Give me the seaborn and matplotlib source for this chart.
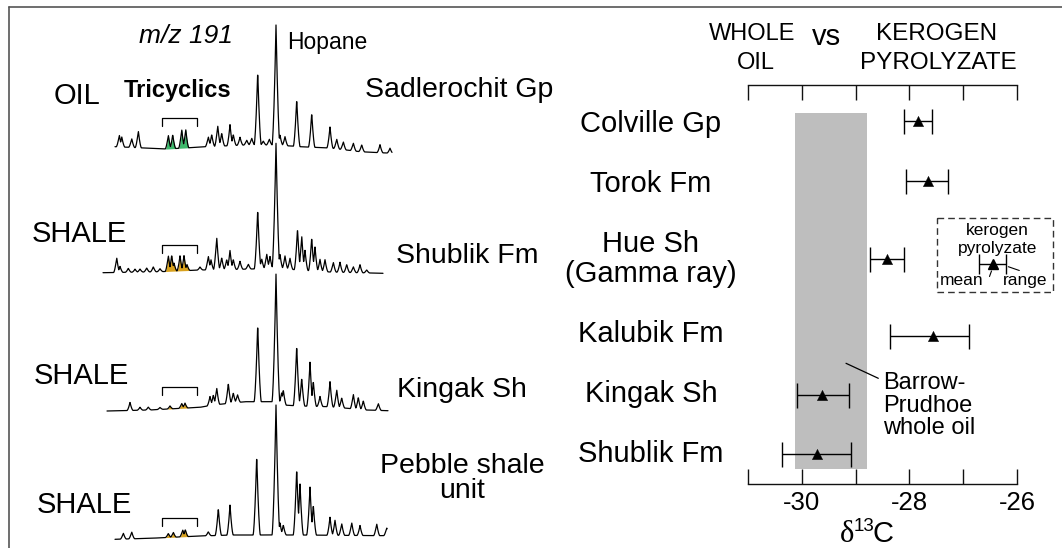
import numpy as np
import matplotlib
matplotlib.use('Agg')
import matplotlib.pyplot as plt
import seaborn as sns
from matplotlib.patches import Rectangle

# ---------------- data: carbon isotopes (right panel) ----------------
formations = ['Colville Gp', 'Torok Fm', 'Hue Sh\n(Gamma ray)', 'Kalubik Fm', 'Kingak Sh', 'Shublik Fm']
d13c_mean = [-27.84, -27.66, -28.41, -27.56, -29.62, -29.72]
d13c_min = [-28.10, -28.06, -28.74, -28.36, -30.09, -30.36]
d13c_max = [-27.59, -27.28, -28.11, -26.90, -29.12, -29.09]
oil_d13c_range = [-30.12, -28.78]
x_ticks = [-31, -30, -29, -28, -27, -26]
x_ticklabels = ['', '-30', '', '-28', '', '-26']

# ---------------- data: m/z 191 chromatograms (peak retention, height) ----------------
trace_types = ['OIL', 'SHALE', 'SHALE', 'SHALE']
trace_units = ['Sadlerochit Gp', 'Shublik Fm', 'Kingak Sh', 'Pebble shale\nunit']

oil_rt = [119.3, 121.8, 131.7, 138.3, 168.3, 172.7, 181.7, 185.7, 208.3, 211.7, 217.7, 221.7,
          230.0, 233.3, 240.0, 246.7, 251.7, 257.7, 263.3, 269.3, 276.0, 280.0, 285.0, 296.7,
          311.7, 330.0, 336.7, 343.3, 353.3, 361.7, 380.0, 390.0]
oil_h = [12, 10, 9, 17, 14, 14, 19, 19, 10, 12, 21, 13, 21, 11, 8, 5, 7, 73, 4, 6, 120, 10, 9,
         47, 34, 21, 10, 8, 8, 7, 8, 5]

shublik_rt = [116.7, 120.0, 128.3, 135.0, 140.0, 146.7, 153.3, 160.0, 168.3, 171.7, 174.0, 180.0,
              184.0, 187.0, 200.0, 208.3, 211.0, 216.7, 221.7, 226.7, 230.0, 233.3, 240.0, 248.3,
              257.7, 261.7, 266.7, 270.0, 276.0, 280.0, 285.0, 290.0, 297.5, 301.7, 305.0, 311.7,
              315.0, 320.0, 325.0, 333.3, 340.0, 346.7, 353.3, 360.0, 366.7]
shublik_h = [15, 6, 4, 3, 3, 4, 5, 3, 16, 16, 8, 15, 15, 6, 3, 14, 10, 33, 12, 10, 19, 10, 8, 5,
             59, 10, 15, 12, 125, 14, 13, 11, 41, 35, 20, 33, 24, 12, 12, 10, 10, 8, 6, 8, 3]

kingak_rt = [130.0, 140.0, 148.3, 160.0, 170.0, 181.7, 185.0, 210.0, 213.3, 216.7, 228.3, 233.3,
             237.5, 257.7, 276.0, 281.7, 283.3, 296.7, 301.7, 310.0, 313.3, 320.0, 330.0, 336.7,
             341.7, 353.3, 358.3, 363.3, 378.3]
kingak_h = [8, 3, 3, 2, 3, 5, 5, 9, 10, 17, 20, 10, 8, 77, 128, 12, 15, 60, 28, 44, 25, 10, 25,
            18, 10, 15, 12, 9, 7]

pebble_rt = [123.3, 131.7, 168.3, 173.3, 182.7, 185.3, 208.3, 218.3, 230.0, 256.7, 276.0, 280.0,
             283.3, 296.7, 300.0, 310.0, 313.3, 330.0, 335.0, 341.7, 351.7, 360.0, 376.7, 386.7]
pebble_h = [6, 7, 4, 5, 7, 7, 4, 27, 30, 79, 130, 12, 10, 66, 51, 48, 30, 18, 15, 12, 13, 10, 12, 8]

# ---------------- layout (pixel units of the figure) ----------------
W, H = 1062, 548
row_y = [120.7, 181.0, 259.3, 336.0, 395.0, 454.0]
row_label_base = [131.7, 192.3, 251.7, 341.7, 401.7, 461.7]
trace_spans = [(115, 392), (103, 383), (107, 388), (115, 387)]
trace_base_knots = [
    ([115, 167, 207, 245, 276, 300, 330, 360, 392], [146.7, 149, 146.7, 145, 145, 146.7, 148, 151.7, 153.3]),
    ([103, 160, 200, 240, 276, 300, 330, 383], [272.7, 271.7, 270, 269.3, 268.3, 270, 272, 273.3]),
    ([107, 150, 200, 213, 245, 255, 275, 283, 300, 330, 366, 388],
     [411, 410, 407.3, 405, 401.7, 401.7, 401.7, 405, 406, 406.7, 410, 410.7]),
    ([115, 150, 200, 233, 300, 387], [539.3, 538.3, 536, 535, 535, 535.7]),
]
bracket_y = [118.3, 245.0, 387.3, 518.3]
type_label_pos = [(77, 104), (79, 241.7), (81.5, 384.3), (84, 513.3)]
unit_label_pos = [(459, 96.7), (467.5, 263.3), (462, 396.7), (462, 473.3)]
fill_colors = ['#3cb86a', '#d9a21e', '#d9a21e', '#d9a21e']

sns.set_theme(style='white')
plt.rcParams['font.family'] = ['Liberation Sans', 'DejaVu Sans']
plt.rcParams['text.color'] = 'black'
plt.rcParams['xtick.color'] = 'black'
plt.rcParams['xtick.labelcolor'] = 'black'

fig = plt.figure(figsize=(W / 100, H / 100), dpi=100)
bg = fig.add_axes([0, 0, 1, 1], zorder=2)
bg.set_xlim(0, W)
bg.set_ylim(H, 0)
bg.axis('off')
bg.patch.set_alpha(0)

ax = fig.add_axes([747.7 / W, 1 - 484 / H, (1017.3 - 747.7) / W, (484 - 85) / H], zorder=1)
ax.patch.set_alpha(0)

# frame
bg.plot([9, W], [7, 7], color='#555555', lw=1.2, clip_on=False)
bg.plot([9, 9], [7, H], color='#555555', lw=1.2, clip_on=False)

# ---------------- chromatograms ----------------
peaks = [(oil_rt, oil_h), (shublik_rt, shublik_h), (kingak_rt, kingak_h), (pebble_rt, pebble_h)]
for i, ((rt, hts), (x0, x1), (kx, ky)) in enumerate(zip(peaks, trace_spans, trace_base_knots)):
    x = np.arange(x0, x1 + 0.01, 0.2)
    base = np.interp(x, kx, ky)
    sig = np.zeros_like(x)
    for p, hh in zip(rt, hts):
        w = 3.0 + 0.008 * hh
        sig = np.maximum(sig, hh * np.clip(1 - np.abs(x - p) / w, 0, 1) ** 1.6)
    y = base - sig
    m = (x >= 165) & (x <= 189)
    bg.fill_between(x[m], y[m], base[m], color=fill_colors[i], lw=0, zorder=1)
    sns.lineplot(x=x, y=y, ax=bg, color='black', lw=0.9, sort=False, estimator=None, zorder=2)
    by = bracket_y[i]
    bg.plot([161.7, 161.7, 196.7, 196.7], [by + 8, by, by, by + 8], color='black', lw=0.9)
    tx, ty = type_label_pos[i]
    bg.text(tx, ty, trace_types[i], fontsize=21, ha='center', va='baseline')
    ux, uy = unit_label_pos[i]
    for j, line in enumerate(trace_units[i].split('\n')):
        bg.text(ux, uy + j * 25, line, fontsize=20.5, ha='center', va='baseline')

bg.text(186, 43.3, 'm/z 191', style='italic', fontsize=19, ha='center', va='baseline')
bg.text(287.3, 49.3, 'Hopane', fontsize=16.5, ha='left', va='baseline')
bg.text(177.5, 96.7, 'Tricyclics', fontsize=17, weight='bold', ha='center', va='baseline')

# ---------------- isotope panel ----------------
mean = np.array(d13c_mean)
lo = np.array(d13c_min)
hi = np.array(d13c_max)
ax.fill_betweenx([113, 469], oil_d13c_range[0], oil_d13c_range[1], color='#bebebe', lw=0, zorder=0)
ax.errorbar(mean, row_y, xerr=[mean - lo, hi - mean], fmt='none', ecolor='black',
            elinewidth=1.0, capsize=9, capthick=1.0, zorder=2)
sns.scatterplot(x=mean, y=row_y, marker='^', s=55, color='black', edgecolor='black',
                linewidth=0.3, ax=ax, zorder=3)
ax.set_xlim(-31, -26)
ax.set_ylim(484, 85)
ax.set_xticks(x_ticks)
ax.set_xticklabels(x_ticklabels)
ax.set_yticks([])
for s in ['left', 'right']:
    ax.spines[s].set_visible(False)
for s in ['top', 'bottom']:
    ax.spines[s].set_color('#111111')
    ax.spines[s].set_linewidth(1.0)
ax.tick_params(axis='x', direction='in', length=10.5, width=1.0, color='#111111', top=True,
               bottom=True, labeltop=False, labelbottom=True, labelsize=18.5, pad=5,
               labelcolor='black')
ax.set_xlabel('')
ax.set_ylabel('')

for name, yb in zip(formations, row_label_base):
    for j, line in enumerate(name.split('\n')):
        bg.text(651, yb + j * 30, line, fontsize=21, ha='center', va='baseline')

# x-axis label: delta 13 C
bg.text(854, 542, '\u03b4', family=['Liberation Serif', 'DejaVu Serif'], fontsize=22,
        ha='right', va='baseline')
bg.text(854, 531, '13', fontsize=13.5, ha='left', va='baseline')
bg.text(872.5, 542, 'C', fontsize=21, ha='left', va='baseline')

# header
bg.text(752.5, 40, 'WHOLE', fontsize=17, ha='center', va='baseline')
bg.text(755.7, 69, 'OIL', fontsize=17, ha='center', va='baseline')
bg.text(826, 45, 'vs', fontsize=21, ha='center', va='baseline')
bg.text(937, 40, 'KEROGEN', fontsize=17.5, ha='center', va='baseline')
bg.text(938.3, 69, 'PYROLYZATE', fontsize=17.5, ha='center', va='baseline')

# Barrow-Prudhoe annotation
bg.plot([846, 878.3], [363.3, 378.3], color='black', lw=0.9)
for j, line in enumerate(['Barrow-', 'Prudhoe', 'whole oil']):
    bg.text(883, 389.3 + j * 22.5, line, fontsize=17, ha='left', va='baseline')

# legend box
bg.add_patch(Rectangle((936.7, 218.3), 116, 73.4, fill=False, ec='#333333', lw=1.0,
                       ls=(0, (4.8, 2.9))))
bg.text(997, 235, 'kerogen', fontsize=12.5, ha='center', va='baseline')
bg.text(997.5, 252.5, 'pyrolyzate', fontsize=12.5, ha='center', va='baseline')
bg.errorbar([992.7], [264], xerr=[[13.4], [13.3]], fmt='^', color='black', ms=7,
            elinewidth=1.0, capsize=7, capthick=1.0)
bg.plot([991.5, 989.5], [271, 276.5], color='black', lw=0.8)
bg.plot([1008.3, 1019.3], [266.7, 270.5], color='black', lw=0.8)
bg.text(962, 285, 'mean', fontsize=12.5, ha='center', va='baseline')
bg.text(1025, 285, 'range', fontsize=12.5, ha='center', va='baseline')

fig.savefig('out.png', dpi=100)
